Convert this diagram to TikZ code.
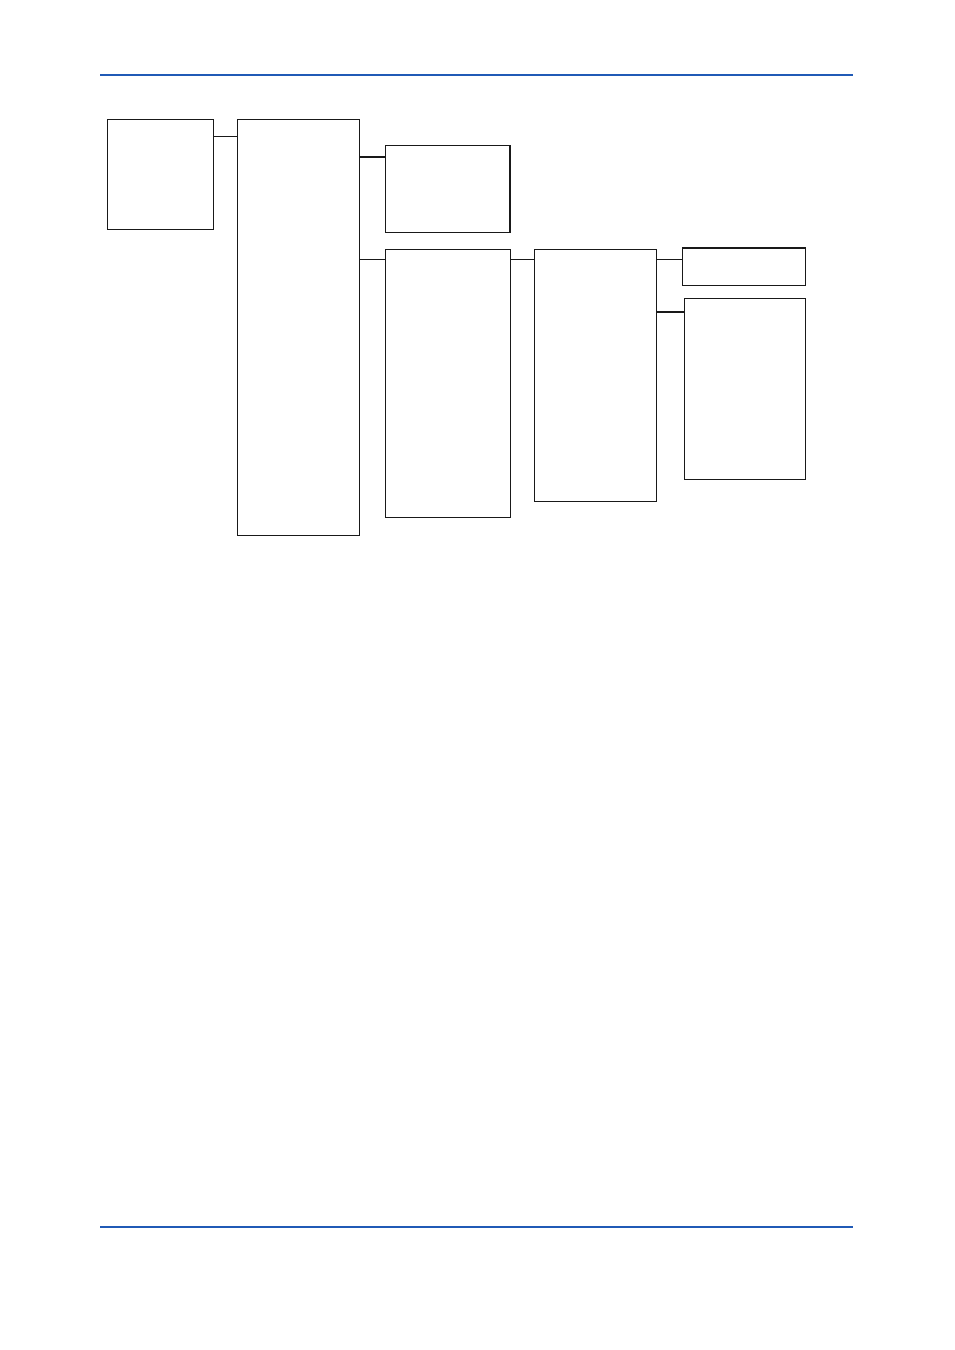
\documentclass[tikz,border=0pt]{standalone}
\usepackage{tikz}
\definecolor{rule}{RGB}{32,90,182}
\begin{document}
\begin{tikzpicture}[x=0.75pt,y=-0.75pt,
  box/.style={draw=black!90,line width=0.75pt,inner sep=0pt,anchor=north west},
  link/.style={draw=black!90,line width=0.75pt},
  heavylink/.style={draw=black!90,line width=1.5pt}]
\useasboundingbox (0,0) rectangle (954,1350);
\fill[white] (0,0) rectangle (954,1350);
% rules
\draw[rule,line width=2.2pt] (100,75) -- (853,75);
\draw[rule,line width=1.5pt] (100,1227) -- (853,1227);
% boxes
\node[box,minimum width=106*0.75pt,minimum height=110*0.75pt] (A) at (107,119) {};
\node[box,minimum width=122*0.75pt,minimum height=416*0.75pt] (B) at (237,119) {};
\node[box,minimum width=124*0.75pt,minimum height=87*0.75pt] (C) at (385,145) {};
\node[box,minimum width=125*0.75pt,minimum height=268*0.75pt] (D) at (385,249) {};
\node[box,minimum width=122*0.75pt,minimum height=252*0.75pt] (E) at (534,249) {};
\node[box,minimum width=123*0.75pt,minimum height=37*0.75pt] (F) at (682,248) {};
\node[box,minimum width=121*0.75pt,minimum height=181*0.75pt] (G) at (684,298) {};
% emphasis edges
\draw[line width=1.5pt,black!90] (C.north east) -- (C.south east);
\draw[line width=1.5pt,black!90] (F.north west) -- (F.north east);
% connectors
\draw[link] (A.east |- 0,136) -- (B.west |- 0,136);
\draw[heavylink] (B.east |- 0,157) -- (C.west |- 0,157);
\draw[link] (B.east |- 0,259) -- (D.west |- 0,259);
\draw[link] (D.east |- 0,259) -- (E.west |- 0,259);
\draw[link] (E.east |- 0,259) -- (F.west |- 0,259);
\draw[heavylink] (E.east |- 0,312) -- (G.west |- 0,312);
\end{tikzpicture}
\end{document}
